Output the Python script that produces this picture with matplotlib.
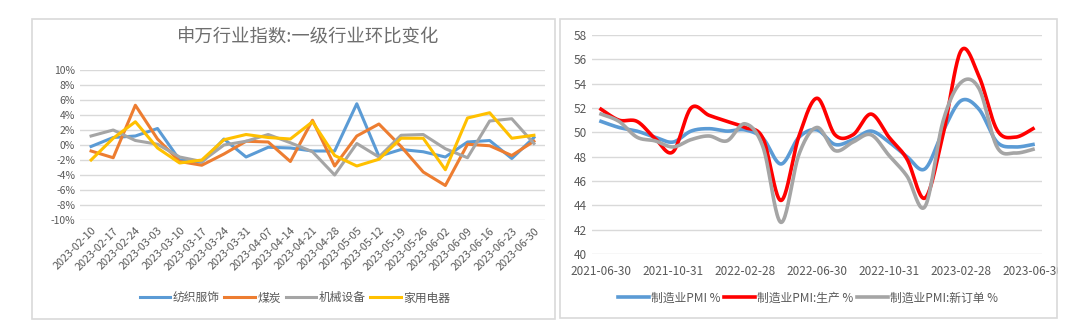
import numpy as np
import matplotlib.pyplot as plt
from matplotlib.patches import Rectangle

plt.rcParams['font.family'] = ['Noto Sans CJK SC', 'DejaVu Sans']

# 左图: 申万一级行业周度环比 (%)
weeks = ['2023-02-10', '2023-02-17', '2023-02-24', '2023-03-03', '2023-03-10', '2023-03-17',
         '2023-03-24', '2023-03-31', '2023-04-07', '2023-04-14', '2023-04-21', '2023-04-28',
         '2023-05-05', '2023-05-12', '2023-05-19', '2023-05-26', '2023-06-02', '2023-06-09',
         '2023-06-16', '2023-06-23', '2023-06-30']
fangzhi = [-0.2, 1.0, 1.2, 2.2, -2.0, -2.3, 0.8, -1.6, -0.3, -0.4, -0.8, -0.8,
           5.5, -1.5, -0.6, -0.9, -1.6, 0.4, 0.6, -1.8, 1.0]
meitan = [-0.8, -1.7, 5.3, 0.8, -2.2, -2.7, -1.2, 0.5, 0.4, -2.2, 3.3, -2.8,
          1.2, 2.8, -0.2, -3.6, -5.4, 0.1, -0.1, -1.4, 0.5]
jixie = [1.2, 2.0, 0.6, 0.1, -1.6, -2.2, 0.0, 0.5, 1.4, 0.3, -0.9, -4.0,
         0.2, -1.6, 1.3, 1.4, -0.5, -1.7, 3.2, 3.5, 0.2]
jiadian = [-2.0, 0.9, 3.1, -0.4, -2.4, -2.0, 0.7, 1.4, 1.0, 0.8, 3.1, -1.4,
           -2.8, -1.9, 0.9, 0.9, -3.3, 3.6, 4.3, 0.9, 1.3]

# 右图: 制造业PMI (月度)
months = ['2021-06-30', '2021-07-31', '2021-08-31', '2021-09-30', '2021-10-31', '2021-11-30',
          '2021-12-31', '2022-01-31', '2022-02-28', '2022-03-31', '2022-04-30', '2022-05-31',
          '2022-06-30', '2022-07-31', '2022-08-31', '2022-09-30', '2022-10-31', '2022-11-30',
          '2022-12-31', '2023-01-31', '2023-02-28', '2023-03-31', '2023-04-30', '2023-05-31',
          '2023-06-30']
pmi = [50.9, 50.4, 50.1, 49.6, 49.2, 50.1, 50.3, 50.1, 50.2, 49.5, 47.4, 49.6, 50.2,
       49.0, 49.4, 50.1, 49.2, 48.0, 47.0, 50.1, 52.6, 51.9, 49.2, 48.8, 49.0]
pmi_sc = [51.9, 51.0, 50.9, 49.5, 48.4, 52.0, 51.4, 50.9, 50.4, 49.5, 44.4, 49.7, 52.8,
          49.8, 49.8, 51.5, 49.6, 47.8, 44.6, 49.8, 56.7, 54.6, 50.2, 49.6, 50.3]
pmi_xdd = [51.5, 50.9, 49.6, 49.3, 48.8, 49.4, 49.7, 49.3, 50.7, 48.8, 42.6, 48.2, 50.4,
           48.5, 49.2, 49.8, 48.1, 46.4, 43.9, 50.9, 54.1, 53.6, 48.8, 48.3, 48.6]

grid_c = '#D9D9D9'
txt_c = '#595959'


def smooth(y, n=24):
    # Excel式平滑线 (Catmull-Rom -> Bezier)
    y = np.asarray(y, dtype=float)
    x = np.arange(len(y), dtype=float)
    pts = np.column_stack([x, y])
    ext = np.vstack([pts[0], pts, pts[-1]])
    out = []
    t = np.linspace(0, 1, n)[:, None]
    for i in range(len(pts) - 1):
        p0, p1, p2, p3 = ext[i], ext[i + 1], ext[i + 2], ext[i + 3]
        c1 = p1 + (p2 - p0) / 6
        c2 = p2 - (p3 - p1) / 6
        seg = (1 - t) ** 3 * p1 + 3 * (1 - t) ** 2 * t * c1 + 3 * (1 - t) * t ** 2 * c2 + t ** 3 * p2
        out.append(seg if i == 0 else seg[1:])
    seg = np.vstack(out)
    return seg[:, 0], seg[:, 1]


fig = plt.figure(figsize=(10.8, 3.29), dpi=100)

# 面板边框
fig.add_artist(Rectangle((32 / 1080, 1 - 319 / 329), 523 / 1080, 300 / 329, transform=fig.transFigure,
                         fill=False, ec=grid_c, lw=1.2))
fig.add_artist(Rectangle((560 / 1080, 1 - 318 / 329), 497 / 1080, 299 / 329, transform=fig.transFigure,
                         fill=False, ec=grid_c, lw=1.2))

# 左图
ax1 = fig.add_axes([80 / 1080, 1 - 220 / 329, 465 / 1080, 150 / 329])
x1 = np.arange(len(weeks))
ax1.plot(x1, fangzhi, color='#5B9BD5', lw=2.2, label='纺织服饰')
ax1.plot(x1, meitan, color='#ED7D31', lw=2.2, label='煤炭')
ax1.plot(x1, jixie, color='#A5A5A5', lw=2.2, label='机械设备')
ax1.plot(x1, jiadian, color='#FFC000', lw=2.2, label='家用电器')
ax1.set_xlim(-0.5, len(weeks) - 0.5)
ax1.set_ylim(-10, 10)
ax1.set_yticks(range(-10, 11, 2))
ax1.set_yticklabels([f'{v}%' for v in range(-10, 11, 2)])
ax1.set_xticks(x1)
ax1.set_xticklabels(weeks, rotation=45, ha='right', rotation_mode='anchor')
ax1.grid(axis='y', color=grid_c, lw=1)
ax1.set_axisbelow(True)
for s in ax1.spines.values():
    s.set_visible(False)
ax1.tick_params(length=0, colors=txt_c, labelsize=7.5)
ax1.tick_params(axis='x', pad=4, labelsize=7.8)
fig.text(308 / 1080, 1 - 38 / 329, '申万行业指数:一级行业环比变化', ha='center', va='center',
         fontsize=13.2, color='#6E6E6E')
ax1.legend(loc='center', bbox_to_anchor=(295 / 1080, 1 - 298 / 329), bbox_transform=fig.transFigure,
           ncol=4, frameon=False, fontsize=8.5, handlelength=2.6, handletextpad=0.2,
           columnspacing=0.4, labelcolor=txt_c)

# 右图
ax2 = fig.add_axes([592 / 1080, 1 - 254 / 329, 450 / 1080, 219 / 329])
sx, sy = smooth(pmi)
ax2.plot(sx, sy, color='#5B9BD5', lw=2.6, label='制造业PMI %')
sx, sy = smooth(pmi_sc)
ax2.plot(sx, sy, color='#FF0000', lw=2.6, label='制造业PMI:生产 %')
sx, sy = smooth(pmi_xdd)
ax2.plot(sx, sy, color='#A5A5A5', lw=2.6, label='制造业PMI:新订单 %')
ax2.set_xlim(-0.5, len(months) - 0.5)
ax2.set_ylim(40, 58)
ax2.set_yticks(range(40, 59, 2))
ax2.set_xticks(range(0, len(months), 4))
ax2.set_xticklabels(months[::4])
ax2.grid(axis='y', color=grid_c, lw=1)
ax2.set_axisbelow(True)
for s in ax2.spines.values():
    s.set_visible(False)
ax2.tick_params(length=0, colors=txt_c, labelsize=8.5)
ax2.tick_params(axis='x', pad=8)
ax2.legend(loc='center', bbox_to_anchor=(808 / 1080, 1 - 298 / 329), bbox_transform=fig.transFigure,
           ncol=3, frameon=False, fontsize=8.5, handlelength=2.6, handletextpad=0.2,
           columnspacing=0.3, labelcolor=txt_c)

# 右侧被面板截断的标签
fig.add_artist(Rectangle((1058 / 1080, 0), 22 / 1080, 1, transform=fig.transFigure,
                         fc='white', ec='none', zorder=10))

fig.savefig('out.png', dpi=100, facecolor='white')
